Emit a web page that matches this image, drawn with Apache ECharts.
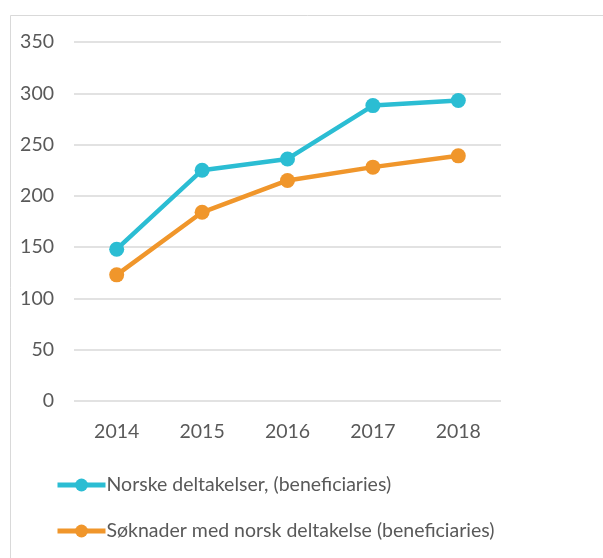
<!DOCTYPE html>
<html><head><meta charset="utf-8">
<script src="https://cdn.jsdelivr.net/npm/echarts@6/dist/echarts.min.js"></script>
<style>html,body{margin:0;padding:0;background:#fff}#c{width:603px;height:558px}</style>
</head><body><div id="c"></div>
<script>
const categories = ['2014', '2015', '2016', '2017', '2018'];
const norskeDeltakelser = [148, 225, 236, 288, 293];
const soknaderMedNorsk = [123, 184, 215, 228, 239];
const seriesNames = ['Norske deltakelser, (beneficiaries)', 'Søknader med norsk deltakelse (beneficiaries)'];
const yMin = 0, yMax = 350, yInterval = 50;

const font = 'Lato, "Liberation Sans", sans-serif';
const textColor = '#595959';
const chart = echarts.init(document.getElementById('c'), null, {renderer: 'canvas'});
chart.setOption({
  animation: false,
  backgroundColor: '#fff',
  graphic: [{
    type: 'rect', left: 8, top: 13, shape: {width: 620, height: 600},
    style: {fill: 'none', stroke: '#d9d9d9', lineWidth: 1}, silent: true
  }],
  grid: {left: 74, right: 102, top: 42, bottom: 157, containLabel: false},
  xAxis: {
    type: 'category', data: categories, boundaryGap: true,
    axisLine: {show: false}, axisTick: {show: false},
    axisLabel: {color: textColor, fontFamily: font, fontSize: 19.5, margin: 21}
  },
  yAxis: {
    type: 'value', min: yMin, max: yMax, interval: yInterval,
    axisLine: {show: false}, axisTick: {show: false},
    axisLabel: {color: textColor, fontFamily: font, fontSize: 19.5, margin: 20},
    splitLine: {lineStyle: {color: '#d9d9d9', width: 1.5}}
  },
  legend: {
    orient: 'vertical', left: 50, top: 470, itemWidth: 48, itemHeight: 16, itemGap: 26,
    lineStyle: {width: 5},
    textStyle: {color: textColor, fontFamily: font, fontSize: 19.5, padding: [0, 0, 0, -4]},
    data: seriesNames
  },
  series: [
    {name: seriesNames[0], type: 'line', data: norskeDeltakelser, symbol: 'circle', symbolSize: 15,
     color: '#2bbdd3', lineStyle: {width: 4.5, color: '#2bbdd3'}, itemStyle: {color: '#2bbdd3'}},
    {name: seriesNames[1], type: 'line', data: soknaderMedNorsk, symbol: 'circle', symbolSize: 15,
     color: '#f0962b', lineStyle: {width: 4.5, color: '#f0962b'}, itemStyle: {color: '#f0962b'}}
  ]
});
</script></body></html>
